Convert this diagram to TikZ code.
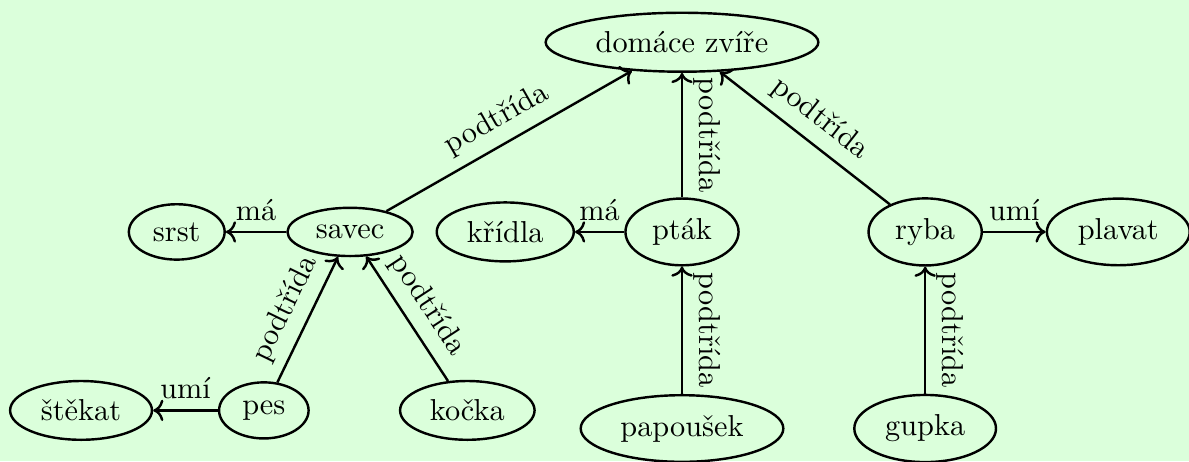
\documentclass[tikz,border=0pt]{standalone}
\usepackage{tikz}
\usetikzlibrary{arrows.meta,calc,positioning,shapes.geometric}

\begin{document}
\begin{tikzpicture}[thick,
  pojem/.style={draw,ellipse},
  hrana/.style={->},
  popis/.style={midway,above,sloped}]
  \fill[green!14] (0,0) rectangle (13.79,5.35);
  \useasboundingbox (0,0) rectangle (13.79,5.35);
  % uzly
  \node[pojem] (dom) at (7.91,4.86) {domáce zvíře};
  \node[pojem] (srst) at (2.05,2.66) {srst};
  \node[pojem] (savec) at (4.06,2.66) {savec};
  \node[pojem] (kridla) at (5.86,2.66) {křídla};
  \node[pojem] (ptak) at (7.91,2.66) {pták};
  \node[pojem] (ryba) at (10.73,2.66) {ryba};
  \node[pojem] (plavat) at (12.97,2.66) {plavat};
  \node[pojem] (stekat) at (0.94,0.59) {štěkat};
  \node[pojem] (pes) at (3.06,0.59) {pes};
  \node[pojem] (kocka) at (5.42,0.59) {kočka};
  \node[pojem] (papousek) at (7.91,0.38) {papoušek};
  \node[pojem] (gupka) at (10.73,0.38) {gupka};
  % hrany
  \draw[<-] (dom) -- (savec) node[popis] {podtřída};
  \draw[<-] (dom) -- (ptak) node[popis] {podtřída};
  \draw[<-] (dom) -- (ryba) node[popis] {podtřída};
  \draw[hrana] (savec) -- (srst) node[popis] {má};
  \draw[hrana] (ptak) -- (kridla) node[popis] {má};
  \draw[hrana] (ryba) -- (plavat) node[popis] {umí};
  \draw[hrana] (pes) -- (stekat) node[popis] {umí};
  \draw[<-] (savec) -- (pes) node[popis] {podtřída};
  \draw[<-] (savec) -- (kocka) node[popis] {podtřída};
  \draw[<-] (ptak) -- (papousek) node[popis] {podtřída};
  \draw[<-] (ryba) -- (gupka) node[popis] {podtřída};
\end{tikzpicture}
\end{document}
